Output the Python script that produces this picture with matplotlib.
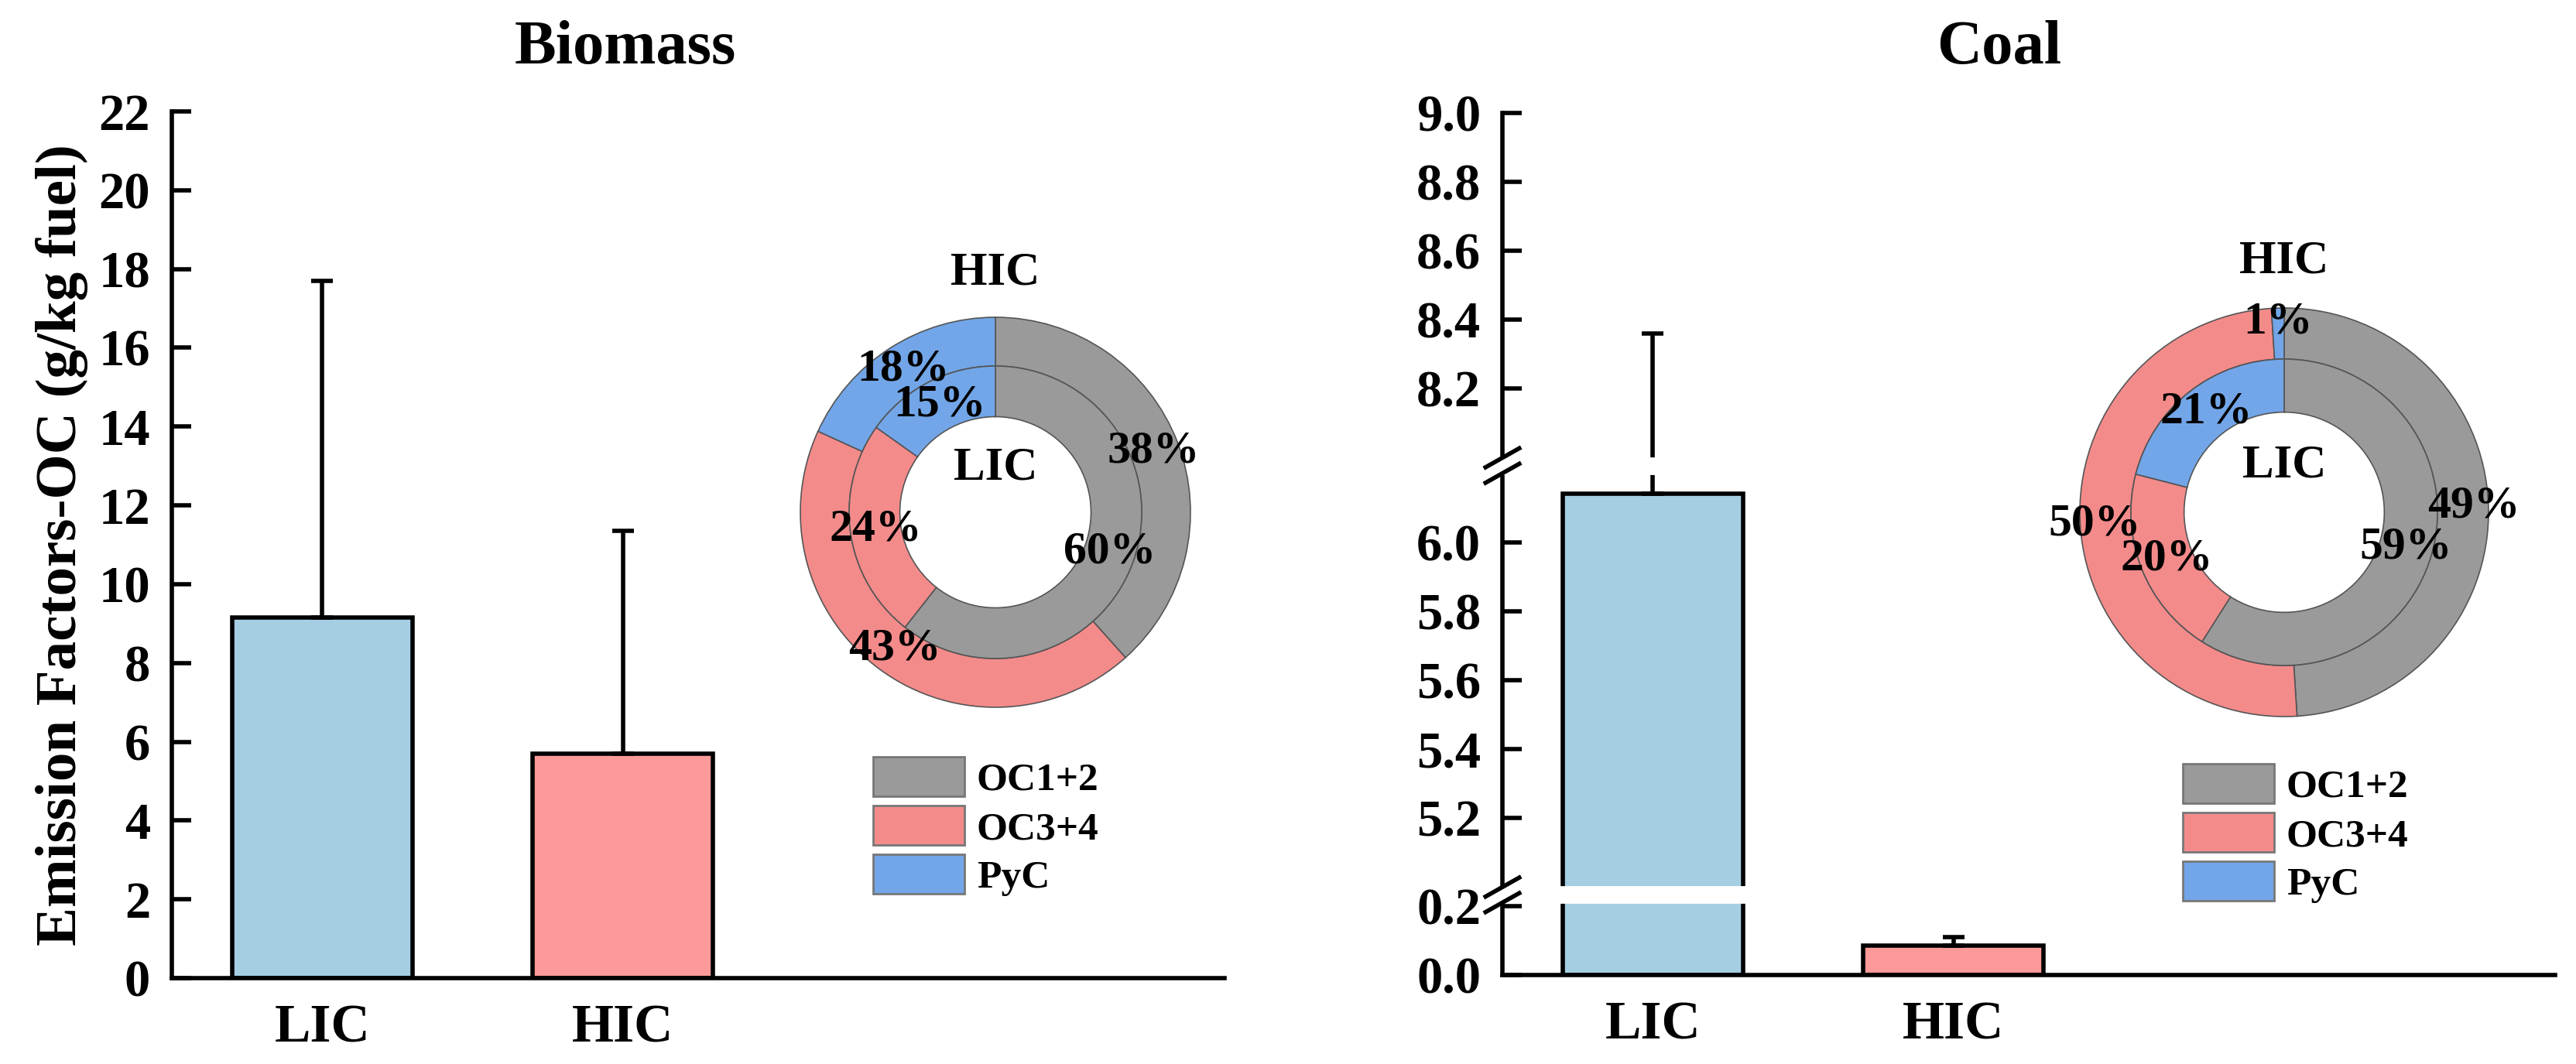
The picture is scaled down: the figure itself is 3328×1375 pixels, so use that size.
import numpy as np
import matplotlib
matplotlib.use("Agg")
import matplotlib.pyplot as plt
from matplotlib.patches import Patch
from matplotlib.ticker import FormatStrFormatter, NullLocator

# ---- data -------------------------------------------------------------
groups = ["LIC", "HIC"]
biomass_mean = [9.15, 5.70]
biomass_err = [8.55, 5.65]
coal_mean = [6.14, 0.085]
coal_err = [2.22, 0.025]

fractions = ["OC1+2", "OC3+4", "PyC"]
biomass_lic = [60, 24, 15]
biomass_hic = [38, 43, 18]
coal_lic = [59, 20, 21]
coal_hic = [49, 50, 1]

biomass_ticks = list(range(0, 23, 2))
coal_ticks = [0.0, 0.2, 5.2, 5.4, 5.6, 5.8, 6.0, 8.2, 8.4, 8.6, 8.8, 9.0]
# value ranges kept on the broken coal axis
coal_segments = [(0.0, 0.21), (5.0, 6.2), (8.0, 9.0)]

BAR_COLORS = ["#A6CEE3", "#FB9A99"]
FRAC_COLORS = ["#9A9A9A", "#F48B8B", "#72A6E8"]

plt.rcParams["font.family"] = ["Liberation Serif", "DejaVu Serif"]
plt.rcParams["font.weight"] = "bold"
plt.rcParams["axes.labelweight"] = "bold"

W, H, DPI = 3328, 1375, 200
fig = plt.figure(figsize=(W / DPI, H / DPI), dpi=DPI)


def px(x0, y0, w, h):
    """pixel box (top-left origin) -> figure fraction rect"""
    return [x0 / W, 1 - (y0 + h) / H, w / W, h / H]


def break_scale(segs, gap):
    src, dst, pos = [-100.0], [-100.0], 0.0
    for i, (a, b) in enumerate(segs):
        if i:
            pos += gap
        src += [a, b]
        dst += [pos, pos + b - a]
        pos += b - a
    src.append(segs[-1][1] + 100)
    dst.append(pos + 100)
    src, dst = np.array(src), np.array(dst)
    return (lambda y: np.interp(y, src, dst)), (lambda y: np.interp(y, dst, src))


def bar_panel(ax, means, errs):
    x = np.arange(1, len(groups) + 1)
    ax.bar(x, means, width=0.6, color=BAR_COLORS, edgecolor="black", linewidth=2, zorder=2)
    ax.errorbar(x, means, yerr=[np.zeros(len(errs)), errs], fmt="none", ecolor="black",
                elinewidth=2, capsize=5, capthick=2, zorder=3)
    ax.set_xlim(0.5, 4.0)
    ax.set_xticks(x, groups)
    for s in ("top", "right"):
        ax.spines[s].set_visible(False)
    for s in ("left", "bottom"):
        ax.spines[s].set_linewidth(2)
    ax.tick_params(axis="y", direction="in", length=9, width=2, labelsize=24, pad=10)
    ax.tick_params(axis="x", length=0, labelsize=25, pad=12)


def donut(box, inner, outer, out_r):
    dax = fig.add_axes(box)
    wp = dict(edgecolor="#555555", linewidth=0.6)
    w_out, _ = dax.pie(outer, radius=1.0, colors=FRAC_COLORS, startangle=90,
                       counterclock=False, wedgeprops=dict(width=0.25, **wp))
    w_in, _ = dax.pie(inner, radius=0.75, colors=FRAC_COLORS, startangle=90,
                      counterclock=False, wedgeprops=dict(width=0.26, **wp))
    for wedges, vals, r in ((w_out, outer, out_r), (w_in, inner, 0.62)):
        for w, v in zip(wedges, vals):
            ang = np.deg2rad((w.theta1 + w.theta2) / 2)
            dax.text(r * np.cos(ang), r * np.sin(ang), f"{v}%", ha="center",
                     va="center", fontsize=21.5, fontweight="bold")
    dax.text(0, 1.23, "HIC", ha="center", va="center", fontsize=22, fontweight="bold")
    dax.text(0, 0.23, "LIC", ha="center", va="center", fontsize=22, fontweight="bold")
    dax.set_xlim(-1, 1)
    dax.set_ylim(-1, 1)
    dax.set_aspect("equal")


def legend(x, y):
    handles = [Patch(facecolor=c, edgecolor="#777777", linewidth=1) for c in FRAC_COLORS]
    fig.legend(handles, fractions, loc="upper left", bbox_to_anchor=(x / W, 1 - y / H),
               frameon=False, fontsize=18.5, handlelength=2.3, handleheight=1.15,
               handletextpad=0.3, labelspacing=0.18, borderpad=0, borderaxespad=0)


# ---- Biomass ----------------------------------------------------------
ax1 = fig.add_axes(px(222, 144, 1360, 1120))
bar_panel(ax1, biomass_mean, biomass_err)
ax1.set_ylim(0, 22)
ax1.set_yticks(biomass_ticks)
ax1.set_ylabel("Emission Factors-OC (g/kg fuel)", fontsize=27, fontweight="bold", labelpad=5)
fig.text(808 / W, 1 - 82 / H, "Biomass", ha="center", va="baseline", fontsize=29)

# ---- Coal (broken axis) -----------------------------------------------
GAP = 0.045
ax2 = fig.add_axes(px(1941, 146, 1360, 1114))
fwd, inv = break_scale(coal_segments, GAP)
ax2.set_yscale("function", functions=(fwd, inv))
bar_panel(ax2, coal_mean, coal_err)
ax2.set_ylim(0, 9)
ax2.set_yticks(coal_ticks)
ax2.yaxis.set_minor_locator(NullLocator())
ax2.yaxis.set_major_formatter(FormatStrFormatter("%.1f"))
fig.text(2583 / W, 1 - 82 / H, "Coal", ha="center", va="baseline", fontsize=29)

to_axes = ax2.transAxes.inverted()
for (_, lo), (hi, _) in zip(coal_segments[:-1], coal_segments[1:]):
    ax2.axhspan(lo, hi, xmin=-0.01, xmax=1, color="white", zorder=4, clip_on=False)
    for yv in (lo, hi):
        ya = to_axes.transform(ax2.transData.transform((1, yv)))[1]
        ax2.plot([-0.016, 0.016], [ya - 0.011, ya + 0.011], color="black", lw=2,
                 transform=ax2.transAxes, clip_on=False, zorder=5)

# ---- donuts and legends -----------------------------------------------
donut(px(1286 - 252, 662 - 252, 504, 504), biomass_lic, biomass_hic, 0.87)
donut(px(2951 - 264, 662 - 264, 528, 528), coal_lic, coal_hic, 0.93)
legend(1128, 978)
legend(2820, 987)

fig.savefig("out.png", dpi=DPI)
